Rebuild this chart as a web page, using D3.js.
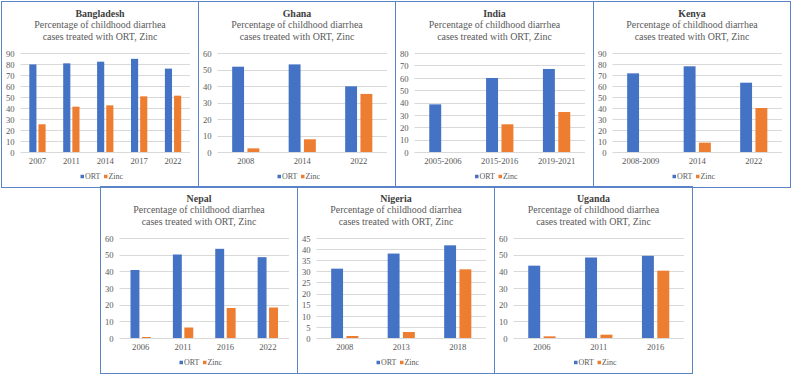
<!DOCTYPE html>
<html>
<head>
<meta charset="utf-8">
<script src="https://cdn.jsdelivr.net/npm/d3@7/dist/d3.min.js"></script>
<style>
  html, body { margin: 0; padding: 0; background: #fff; }
  svg { display: block; }
  svg text { font-family: 'Times New Roman', 'Liberation Serif', Tinos, serif; }
</style>
</head>
<body>
<script>
const countries = ['Bangladesh', 'Ghana', 'India', 'Kenya', 'Nepal', 'Nigeria', 'Uganda'];
const seriesNames = ['ORT', 'Zinc'];
const subtitle = ['Percentage of childhood diarrhea', 'cases treated with ORT, Zinc'];

const bangladeshYears = ['2007', '2011', '2014', '2017', '2022'];
const bangladeshOrt = [79.6, 80.6, 82.1, 84.7, 75.8];
const bangladeshZinc = [25.2, 41.2, 42.4, 50.6, 51.2];

const ghanaYears = ['2008', '2014', '2022'];
const ghanaOrt = [51.7, 53.1, 39.8];
const ghanaZinc = [2.2, 7.7, 35.2];

const indiaYears = ['2005-2006', '2015-2016', '2019-2021'];
const indiaOrt = [38.5, 59.8, 67.1];
const indiaZinc = [null, 22.4, 32.3];

const kenyaYears = ['2008-2009', '2014', '2022'];
const kenyaOrt = [71.5, 77.9, 63.0];
const kenyaZinc = [null, 8.5, 40.0];

const nepalYears = ['2006', '2011', '2016', '2022'];
const nepalOrt = [40.8, 50.1, 53.5, 48.5];
const nepalZinc = [0.6, 6.3, 18.0, 18.3];

const nigeriaYears = ['2008', '2013', '2018'];
const nigeriaOrt = [31.2, 38.0, 41.7];
const nigeriaZinc = [0.9, 2.7, 30.9];

const ugandaYears = ['2006', '2011', '2016'];
const ugandaOrt = [43.4, 48.3, 49.3];
const ugandaZinc = [1.0, 2.0, 40.4];

// y 轴刻度
const yMax = [90, 60, 80, 90, 60, 45, 60];
const yStep = [10, 10, 10, 10, 10, 5, 10];

const years = [bangladeshYears, ghanaYears, indiaYears, kenyaYears, nepalYears, nigeriaYears, ugandaYears];
const ortValues = [bangladeshOrt, ghanaOrt, indiaOrt, kenyaOrt, nepalOrt, nigeriaOrt, ugandaOrt];
const zincValues = [bangladeshZinc, ghanaZinc, indiaZinc, kenyaZinc, nepalZinc, nigeriaZinc, ugandaZinc];

const colors = { ORT: '#4472C4', Zinc: '#ED7D31' };

// panel boxes
const boxes = [
  { x: 1, y: 1, w: 197, h: 185.5 },
  { x: 198, y: 1, w: 197, h: 185.5 },
  { x: 395, y: 1, w: 198, h: 185.5 },
  { x: 593, y: 1, w: 197, h: 185.5 },
  { x: 100, y: 186.5, w: 197, h: 187 },
  { x: 297, y: 186.5, w: 197, h: 187 },
  { x: 494, y: 186.5, w: 198, h: 187 }
];

const svg = d3.select('body').append('svg')
  .attr('width', 792)
  .attr('height', 375);

svg.append('rect').attr('width', 792).attr('height', 375).attr('fill', '#fff');

// 字号校正: the subtitle line is about 131px wide in the original
const probe = svg.append('text').attr('font-size', 10).text(subtitle[0]);
const probeW = probe.node().getComputedTextLength();
probe.remove();
const fk = probeW > 0 ? 131.5 / probeW : 1;
const fs = v => (v * fk).toFixed(2);

countries.forEach((name, i) => drawPanel(i));

function drawPanel(i) {
  const box = boxes[i];
  const g = svg.append('g').attr('transform', `translate(${box.x} ${Math.floor(box.y)})`);
  const cx = box.w / 2 + 0.5;
  const top = 52;
  const bottom = i < 4 ? 151 : 152;

  // title
  g.append('text')
    .attr('x', cx).attr('y', 16)
    .attr('text-anchor', 'middle')
    .attr('font-size', fs(10)).attr('font-weight', 'bold')
    .attr('fill', '#404040')
    .text(countries[i]);
  subtitle.forEach((line, k) => {
    g.append('text')
      .attr('x', cx).attr('y', 27.4 + k * 11.3)
      .attr('text-anchor', 'middle')
      .attr('font-size', fs(10))
      .attr('fill', '#595959')
      .text(line);
  });

  const x = d3.scaleBand()
    .domain(years[i])
    .range([19.5, box.w - 8]);
  const xs = d3.scaleBand()
    .domain(seriesNames)
    .range([0, x.bandwidth()])
    .paddingInner(0.222)
    .paddingOuter(0.96);
  const y = d3.scaleLinear()
    .domain([0, yMax[i]])
    .range([bottom, top]);
  const ticks = d3.range(0, yMax[i] + 0.001, yStep[i]);

  // grid
  g.append('g').selectAll('line').data(ticks).enter()
    .append('line')
    .attr('x1', x.range()[0]).attr('x2', x.range()[1])
    .attr('y1', d => Math.round(y(d)) + 0.5).attr('y2', d => Math.round(y(d)) + 0.5)
    .attr('stroke', '#D9D9D9').attr('stroke-width', 1);

  // y 轴
  const yAxis = d3.axisLeft(y).tickValues(ticks).tickSize(0).tickPadding(6);
  const ya = g.append('g').attr('transform', `translate(${x.range()[0]} 0.5)`).call(yAxis);
  ya.attr('font-family', null);
  ya.select('.domain').remove();
  ya.selectAll('text').attr('font-size', fs(8.7)).attr('fill', '#595959');

  // x 轴
  const xAxis = d3.axisBottom(x).tickSize(0).tickPadding(6);
  const xa = g.append('g').attr('transform', `translate(0 ${bottom})`).call(xAxis);
  xa.attr('font-family', null);
  xa.select('.domain').remove();
  xa.selectAll('text').attr('font-size', fs(8.7)).attr('fill', '#595959');

  // bars
  const rows = years[i].map((yr, j) => ({ year: yr, ORT: ortValues[i][j], Zinc: zincValues[i][j] }));
  const grp = g.append('g').selectAll('g').data(rows).enter()
    .append('g')
    .attr('transform', d => `translate(${x(d.year)} 0)`);
  grp.selectAll('rect')
    .data(d => seriesNames.filter(s => d[s] != null).map(s => ({ key: s, value: d[s] })))
    .enter().append('rect')
    .attr('x', d => xs(d.key))
    .attr('width', xs.bandwidth())
    .attr('y', d => y(d.value))
    .attr('height', d => bottom - y(d.value))
    .attr('fill', d => colors[d.key]);

  // legend
  const lg = g.append('g').attr('transform', `translate(${cx + 2} ${bottom + 24.5})`);
  const offs = [-21.5, 2];
  seriesNames.forEach((s, k) => {
    lg.append('rect')
      .attr('x', offs[k]).attr('y', -1.75)
      .attr('width', 3.5).attr('height', 3.5)
      .attr('fill', colors[s]);
    lg.append('text')
      .attr('x', offs[k] + 4.5).attr('y', 0)
      .attr('dy', '0.33em')
      .attr('font-size', fs(8))
      .attr('fill', '#595959')
      .text(s);
  });

  // border
  svg.append('rect')
    .attr('x', box.x + 0.5).attr('y', Math.floor(box.y) + 0.5)
    .attr('width', box.w).attr('height', Math.round(box.h))
    .attr('fill', 'none')
    .attr('stroke', '#5B84C8')
    .attr('stroke-width', 1);
}
</script>
</body>
</html>
